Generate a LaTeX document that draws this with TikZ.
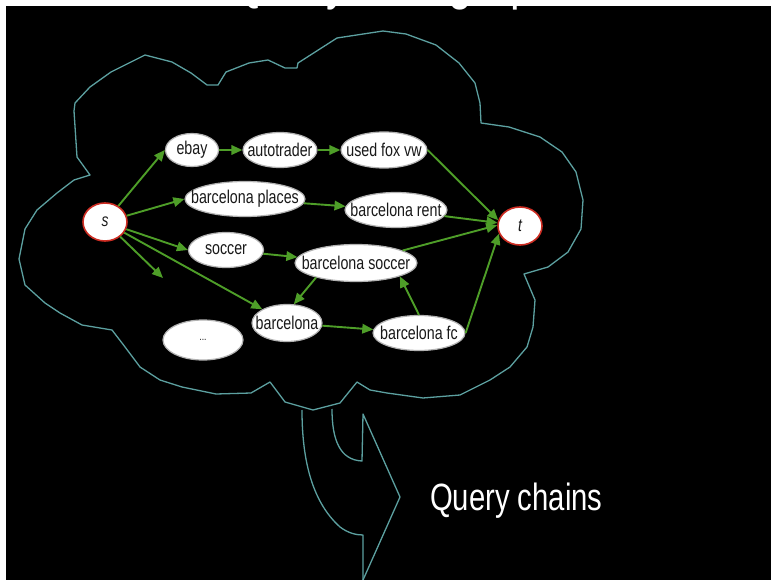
\documentclass[tikz,border=0pt]{standalone}
\usepackage{fontspec}
\usetikzlibrary{shapes.geometric,arrows.meta}
\newfontfamily\narrowsans{Liberation Sans}[FakeStretch=0.77]
\definecolor{cloudteal}{RGB}{92,160,160}
\definecolor{edgegreen}{RGB}{78,158,40}
\definecolor{endred}{RGB}{205,45,35}
% zero-width label box: the ellipse size comes from the style alone
\newcommand\qlbl[1]{\makebox[0pt]{#1}}

\begin{document}
\begin{tikzpicture}[x=1pt,y=-1pt,
  qnode/.style={ellipse, fill=white, draw=black!30, line width=1.2pt, inner sep=0pt,
    font=\narrowsans\fontsize{18.5}{20}\selectfont, text=black!90},
  endnode/.style={qnode, draw=endred, line width=1.6pt,
    font=\narrowsans\itshape\fontsize{18}{20}\selectfont},
  link/.style={draw=edgegreen, line width=1.9pt, -{Triangle[length=11pt,width=9.5pt]}},
  cloudline/.style={draw=cloudteal, line width=1.3pt, line join=round}]

\useasboundingbox (0,0) rectangle (771,580);
\fill[white] (0,0) rectangle (771,580);
\fill[black] (6,6) rectangle (771,580);

% heading, mostly above the page
\node[anchor=base west, inner sep=0pt, text=white,
      font=\narrowsans\fontsize{56}{60}\selectfont] (title) at (230,-1.5) {Query flow graph};

% cloud outline
\draw[cloudline] (90,175) -- (77,157) -- (74,111) -- (75,103) -- (90,87) -- (111,72)
  -- (145,55) -- (172,62) -- (191,73) -- (207,85) -- (218,85) -- (226,72)
  -- (249,63) -- (268,60) -- (285,68) -- (297,68) -- (298,63) -- (337,38)
  -- (383,31) -- (406,34) -- (436,45) -- (459,63) -- (475,83) -- (480,103)
  -- (481,123) -- (509,127) -- (540,137) -- (562,152) -- (576,172) -- (583,200)
  -- (581,229) -- (568,252) -- (548,267) -- (524,274) -- (535,300) -- (533,327)
  -- (527,347) -- (510,367) -- (490,380) -- (460,395) -- (423,398) -- (387,393)
  -- (370,390) -- (357,382) -- (340,403) -- (313,410) -- (285,402) -- (270,382)
  -- (251,393) -- (216,394) -- (182,387) -- (160,380) -- (140,367) -- (122,343)
  -- (112,330) -- (82,325) -- (60,313) -- (45,303) -- (25,285) -- (19,259)
  -- (25,229) -- (37,210) -- (57,193) -- (74,180) -- cycle;

% curved block arrow below the cloud
\draw[cloudline] (302,410) .. controls (302,455) and (310,500) .. (340,527)
  .. controls (348,533) and (356,535) .. (363,535) -- (363,580);
\draw[cloudline] (332,409) .. controls (332,440) and (340,460) .. (362,461)
  -- (363,414) -- (400,497) -- (363,580);

% query nodes
\node[endnode, minimum width=44pt, minimum height=38pt] (s) at (105,222) {\qlbl{s}};
\node[endnode, minimum width=44pt, minimum height=38pt] (t) at (520,226) {\qlbl{t}};
\node[qnode, minimum width=53pt, minimum height=33pt] (ebay) at (192,150) {\qlbl{ebay}};
\node[qnode, minimum width=74pt, minimum height=35pt] (autotrader) at (280,150) {\qlbl{autotrader}};
\node[qnode, minimum width=86pt, minimum height=36pt] (ufv) at (384,150) {\qlbl{used fox vw}};
\node[qnode, minimum width=120pt, minimum height=35pt] (bp) at (245,199) {\qlbl{barcelona places}};
\node[qnode, minimum width=102pt, minimum height=35pt] (brent) at (396,210) {\qlbl{barcelona rent}};
\node[qnode, minimum width=75pt, minimum height=35pt] (soccer) at (226,250) {\qlbl{soccer}};
\node[qnode, minimum width=122pt, minimum height=37pt] (bsoccer) at (356,263) {\qlbl{barcelona soccer}};
\node[qnode, minimum width=70pt, minimum height=37pt] (barca) at (287,323) {\qlbl{barcelona}};
\node[qnode, minimum width=92pt, minimum height=35pt] (bfc) at (419,333) {\qlbl{barcelona fc}};
\node[qnode, minimum width=80pt, minimum height=40pt,
      font=\narrowsans\fontsize{11}{12}\selectfont] (more) at (203,340) {\qlbl{...}};
\coordinate (loose) at (163,278);

% transitions
\draw[link] (s) -- (ebay.west);
\draw[link] (ebay) -- (autotrader);
\draw[link] (autotrader) -- (ufv);
\draw[link] (ufv.east) -- (t.165);
\draw[link] (s) -- (bp.west);
\draw[link] (bp) -- (brent);
\draw[link] (brent) -- (t.172);
\draw[link] (s) -- (soccer.west);
\draw[link] (soccer) -- (bsoccer);
\draw[link] (bsoccer) -- (t.178);
\draw[link] (bsoccer.200) -- (barca.70);
\draw[link] (s) -- (barca);
\draw[link] (s) -- (loose);
\draw[link] (barca) -- (bfc);
\draw[link] (bfc.north) -- (bsoccer.343);
\draw[link] (bfc.east) -- (t.200);

% caption
\node[anchor=base west, inner sep=0pt, text=white,
      font=\narrowsans\fontsize{38}{40}\selectfont] (chains) at (430,510) {Query chains};
\end{tikzpicture}
\end{document}
